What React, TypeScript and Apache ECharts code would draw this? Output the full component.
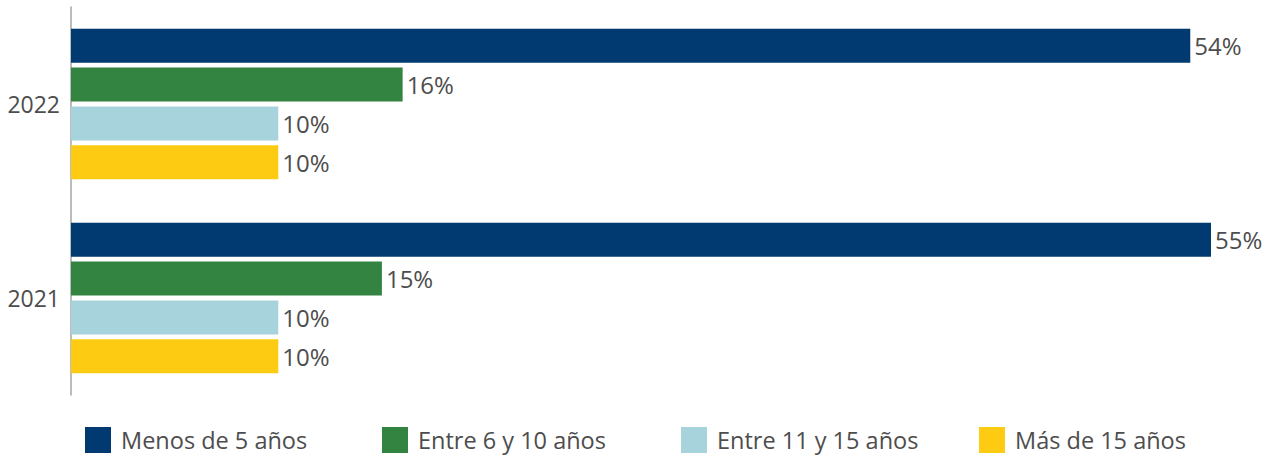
import React, { useEffect, useRef } from "react";
import * as echarts from "echarts";

const categories = ["2022", "2021"];
const seriesNames = ["Menos de 5 años", "Entre 6 y 10 años", "Entre 11 y 15 años", "Más de 15 años"];
const menos5 = [54, 55];
const entre6y10 = [16, 15];
const entre11y15 = [10, 10];
const mas15 = [10, 10];
const colors = ["#003a70", "#348441", "#a7d3dc", "#fdcc12"];
const legendLefts = [85, 382, 681, 979];

const FONT = "'Open Sans', 'Noto Sans', sans-serif";
const TEXT = "#4d4d4d";

export default function App() {
  const ref = useRef<HTMLDivElement>(null);
  useEffect(() => {
    if (!ref.current) return;
    const chart = echarts.init(ref.current, undefined, { renderer: "svg" });
    const values = [menos5, entre6y10, entre11y15, mas15];
    chart.setOption({
      animation: false,
      textStyle: { fontFamily: FONT },
      grid: { left: 71, top: 7, right: 64, bottom: 61, containLabel: false },
      legend: seriesNames.map((n, i) => ({
        data: [n],
        left: legendLefts[i],
        top: 427,
        itemWidth: 26,
        itemHeight: 26,
        icon: "rect",
        selectedMode: false,
        padding: 0,
        textStyle: { fontSize: 23.5, color: TEXT, fontFamily: FONT, padding: [0, 0, 0, 5] },
      })),
      xAxis: {
        type: "value",
        min: 0,
        max: 55,
        show: false,
        splitLine: { show: false },
      },
      yAxis: {
        type: "category",
        data: categories,
        inverse: true,
        axisLine: { show: true, lineStyle: { color: "#a6a6a6", width: 1.5 } },
        axisTick: { show: false },
        axisLabel: { fontSize: 23, color: TEXT, margin: 11, fontFamily: FONT },
      },
      series: seriesNames.map((n, i) => ({
        name: n,
        type: "bar",
        data: values[i],
        barWidth: 34,
        barGap: "14%",
        itemStyle: { color: colors[i] },
        label: {
          show: true,
          position: "right",
          distance: 4,
          formatter: "{c}%",
          fontSize: 24,
          color: TEXT,
          fontFamily: FONT,
        },
      })),
    });
    return () => chart.dispose();
  }, []);
  return (
    <div
      ref={ref}
      style={{ position: "fixed", left: 0, top: 0, width: 1275, height: 456, background: "#fff" }}
    />
  );
}
